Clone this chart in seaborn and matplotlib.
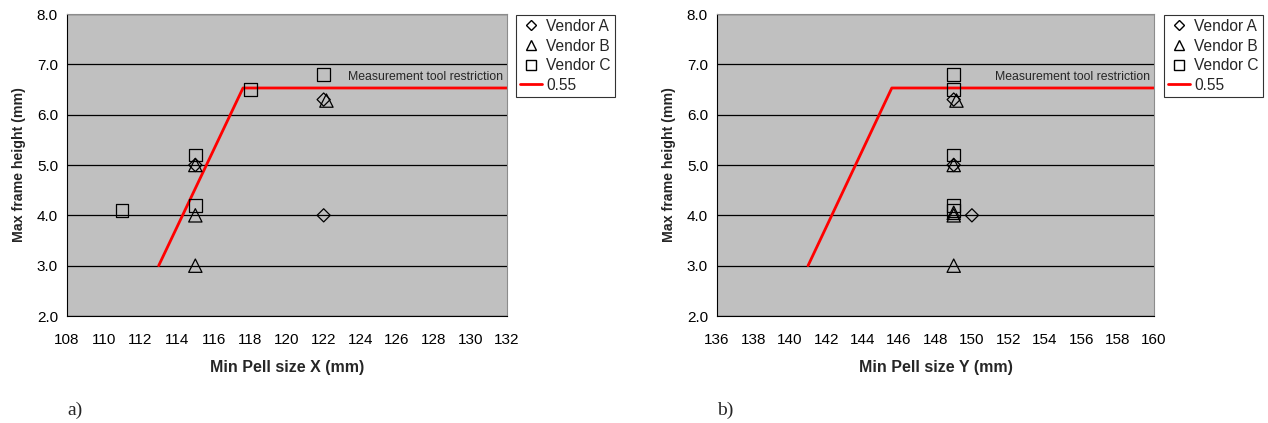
import numpy as np
import matplotlib
matplotlib.use("Agg")
import matplotlib.pyplot as plt
from matplotlib.lines import Line2D
import seaborn as sns

# panel a) Min Pell size X
a_vendor_a_x = [115, 122, 122]
a_vendor_a_y = [5.0, 6.3, 4.0]
a_vendor_b_x = [115, 115, 115, 122.15]
a_vendor_b_y = [5.0, 4.0, 3.0, 6.28]
a_vendor_c_x = [111, 115, 115, 118, 122]
a_vendor_c_y = [4.1, 5.2, 4.2, 6.5, 6.8]
a_limit_x = [113, 117.6, 132]
a_limit_y = [3.0, 6.53, 6.53]

# panel b) Min Pell size Y
b_vendor_a_x = [149, 149, 150]
b_vendor_a_y = [6.3, 5.0, 4.0]
b_vendor_b_x = [149.15, 149, 149, 149, 149]
b_vendor_b_y = [6.28, 5.0, 4.05, 4.0, 3.0]
b_vendor_c_x = [149, 149, 149, 149, 149]
b_vendor_c_y = [6.8, 6.5, 5.2, 4.2, 4.1]
b_limit_x = [141, 145.6, 160]
b_limit_y = [3.0, 6.53, 6.53]

vendor_names = ["Vendor A", "Vendor B", "Vendor C"]
line_label = "0.55"
note = "Measurement tool restriction"


def draw_panel(ax, series, limit_x, limit_y, xlim, xlabel):
    ax.set_facecolor("#c0c0c0")
    sns.lineplot(x=limit_x, y=limit_y, color="red", linewidth=2,
                 sort=False, estimator=None, ax=ax, zorder=2)
    markers = ["D", "^", "s"]
    sizes = [45, 92, 85]
    for (x, y), m, s in zip(series, markers, sizes):
        sns.scatterplot(x=x, y=y, marker=m, s=s, facecolor="none",
                        edgecolor="black", linewidth=0.9, ax=ax, zorder=3)
    ax.set_xlim(*xlim)
    ax.set_ylim(2.0, 8.0)
    ax.set_xticks(np.arange(xlim[0], xlim[1] + 1, 2))
    ax.set_yticks(np.arange(2.0, 8.01, 1.0))
    ax.set_yticklabels([f"{v:.1f}" for v in np.arange(2.0, 8.01, 1.0)])
    ax.grid(axis="y", color="black", linewidth=0.9, zorder=1)
    ax.set_axisbelow(True)
    ax.grid(axis="x", visible=False)
    for side in ["top", "right"]:
        ax.spines[side].set_color("#8c8c8c")
        ax.spines[side].set_linewidth(0.8)
    for side in ["left", "bottom"]:
        ax.spines[side].set_color("black")
        ax.spines[side].set_linewidth(0.8)
    ax.tick_params(direction="out", length=3.5, width=0.8, labelsize=11,
                   colors="black")
    ax.tick_params(axis="x", pad=8.5)
    ax.tick_params(axis="y", pad=3)
    ax.set_xlabel(xlabel, fontsize=11.5, fontweight="bold", labelpad=9.5)
    ax.set_ylabel("Max frame height (mm)", fontsize=10.2, fontweight="bold",
                  labelpad=8)
    ax.text(0.99, (6.74 - 2.0) / 6.0, note, transform=ax.transAxes,
            ha="right", va="center", fontsize=8.8)


def main() -> None:
    sns.set_style("white")
    plt.rcParams["font.family"] = ["Liberation Sans", "DejaVu Sans"]
    fig = plt.figure(figsize=(12.68, 4.23), dpi=100)
    ax1 = fig.add_axes([67 / 1268, 107 / 423, 440 / 1268, 302 / 423])
    ax2 = fig.add_axes([717 / 1268, 107 / 423, 437 / 1268, 302 / 423])

    draw_panel(ax1,
               [(a_vendor_a_x, a_vendor_a_y), (a_vendor_b_x, a_vendor_b_y),
                (a_vendor_c_x, a_vendor_c_y)],
               a_limit_x, a_limit_y, (108, 132), "Min Pell size X (mm)")
    draw_panel(ax2,
               [(b_vendor_a_x, b_vendor_a_y), (b_vendor_b_x, b_vendor_b_y),
                (b_vendor_c_x, b_vendor_c_y)],
               b_limit_x, b_limit_y, (136, 160), "Min Pell size Y (mm)")

    handles = [
        Line2D([], [], linestyle="none", marker="D", markersize=4.6,
               markerfacecolor="none", markeredgecolor="black"),
        Line2D([], [], linestyle="none", marker="^", markersize=6.8,
               markerfacecolor="none", markeredgecolor="black"),
        Line2D([], [], linestyle="none", marker="s", markersize=6.5,
               markerfacecolor="none", markeredgecolor="black"),
        Line2D([], [], color="red", linewidth=2),
    ]
    labels = vendor_names + [line_label]
    for left in [516, 1164]:
        leg = fig.legend(handles, labels, loc="upper left",
                         bbox_to_anchor=(left / 1268, 1 - 15 / 423),
                         bbox_transform=fig.transFigure, borderaxespad=0,
                         fontsize=11.2, frameon=True, fancybox=False,
                         handlelength=1.4, handletextpad=0.3,
                         labelspacing=0.3, borderpad=0.25)
        leg.get_frame().set_edgecolor("black")
        leg.get_frame().set_linewidth(0.8)

    fig.text(67 / 1268, 1 - 410 / 423, "a)", fontsize=14,
             family=["Liberation Serif", "DejaVu Serif"], va="center")
    fig.text(717 / 1268, 1 - 410 / 423, "b)", fontsize=14,
             family=["Liberation Serif", "DejaVu Serif"], va="center")

    fig.savefig("out.png", dpi=100)


if __name__ == "__main__":
    main()
